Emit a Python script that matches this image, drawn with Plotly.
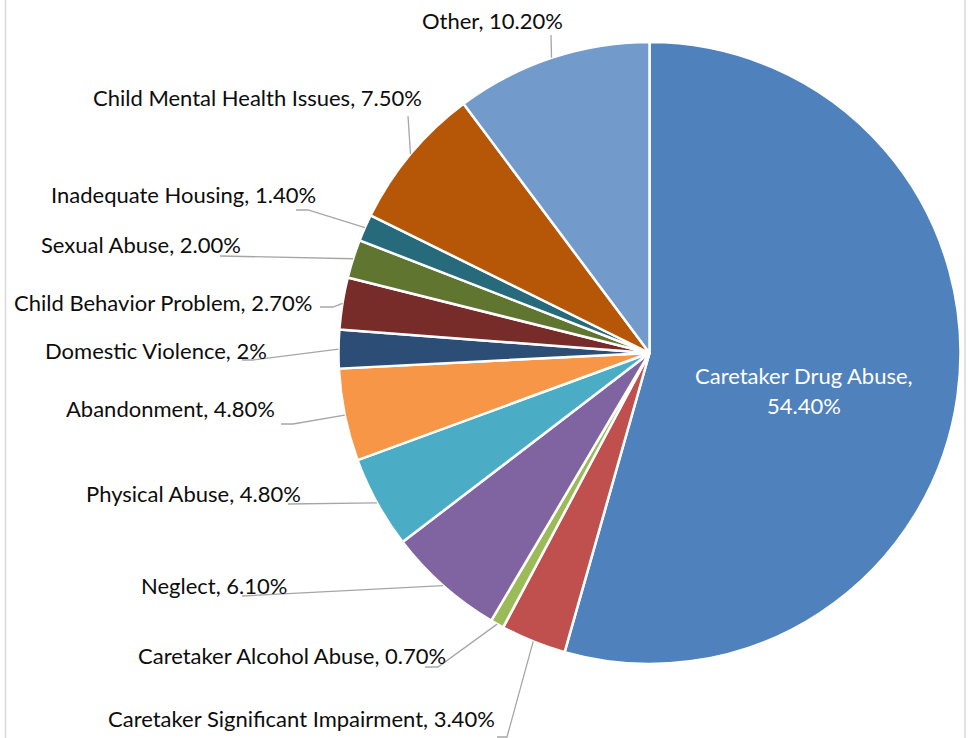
import math
import plotly.graph_objects as go

# Removal reasons, in clockwise order from 12 o'clock
categories = [
    "Caretaker Drug Abuse",
    "Caretaker Significant Impairment",
    "Caretaker Alcohol Abuse",
    "Neglect",
    "Physical Abuse",
    "Abandonment",
    "Domestic Violence",
    "Child Behavior Problem",
    "Sexual Abuse",
    "Inadequate Housing",
    "Child Mental Health Issues",
    "Other",
]
shares = [54.4, 3.4, 0.7, 6.1, 4.8, 4.8, 2.0, 2.7, 2.0, 1.4, 7.5, 10.2]
value_labels = ["54.40%", "3.40%", "0.70%", "6.10%", "4.80%", "4.80%",
                "2%", "2.70%", "2.00%", "1.40%", "7.50%", "10.20%"]

colors = ["#4F81BD", "#C0504D", "#9BBB59", "#8064A2", "#4BACC6", "#F79646",
          "#2C4D75", "#772C2A", "#5F7530", "#276A7C", "#B65708", "#729ACA"]

W, H = 968, 738
CX, CY, R = 649.5, 353.0, 311.0  # pie centre and radius in pixels

FONT = "Lato"
FSIZE = 22
LINE_COLOR = "#A6A6A6"

# Outside label placement: right edge x, centre y, and the leader tail points
# that sit next to the label (pixels). None marks the inside label.
label_layout = [
    None,
    (496, 718, [(497, 737), (507, 737)]),
    (447, 655, [(425, 667), (438, 667)]),
    (288, 585, [(242, 596)]),
    (302, 493, [(288, 504)]),
    (276, 408, [(281, 424), (293, 424)]),
    (268, 350, [(242, 360), (253, 360)]),
    (313, 302, [(320, 307), (333, 307)]),
    (242, 244, [(220, 256)]),
    (317, 195, [(296, 210), (308, 210)]),
    (423, 97, [(408, 116)]),
    (564, 21, [(551, 35)]),
]


def px(x):
    return x / W


def py(y):
    return 1 - y / H


def no_ligatures(s):
    # keep "st" from being drawn as a ligature
    return s.replace("st", "s\u200ct")


fig = go.Figure(go.Pie(
    labels=categories,
    values=shares,
    sort=False,
    direction="clockwise",
    rotation=0,
    textinfo="none",
    hoverinfo="label+percent",
    marker=dict(colors=colors, line=dict(color="#FFFFFF", width=2.5)),
    domain=dict(x=[px(CX - R), px(CX + R)], y=[py(CY + R), py(CY - R)]),
    showlegend=False,
))

total = sum(shares)
annotations = []
shapes = []
cum = 0.0
for name, val, vlab, lay in zip(categories, shares, value_labels, label_layout):
    theta = 2 * math.pi * (cum + val / 2) / total
    cum += val
    sx, sy = math.sin(theta), -math.cos(theta)
    if lay is None:
        # label drawn inside the slice, about halfway out
        tx, ty = CX + 0.5 * R * sx, CY + 0.5 * R * sy
        for k, line in enumerate([f"{name},", vlab]):
            annotations.append(dict(
                x=px(tx), y=py(ty + 1 + 30 * k), xref="paper", yref="paper",
                text=line, showarrow=False,
                font=dict(family=FONT, size=FSIZE, color="#FFFFFF"),
                xanchor="center", yanchor="middle", borderpad=0,
            ))
        continue
    rx, ry, tail = lay
    annotations.append(dict(
        x=px(rx), y=py(ry), xref="paper", yref="paper",
        text=no_ligatures(f"{name}, {vlab}"), showarrow=False,
        font=dict(family=FONT, size=FSIZE, color="#0D0D0D"),
        xanchor="right", yanchor="middle", borderpad=0,
    ))
    ax, ay = CX + R * sx, CY + R * sy
    pts = list(tail) + [(ax, ay)]
    path = "M " + " L ".join(f"{px(x):.5f} {py(y):.5f}" for x, y in pts)
    shapes.append(dict(type="path", path=path, xref="paper", yref="paper",
                       line=dict(color=LINE_COLOR, width=1.3)))

# chart area border (left and right edges visible)
for bx in (5.5, 965.0):
    shapes.append(dict(type="line", x0=px(bx), x1=px(bx), y0=0, y1=1,
                       xref="paper", yref="paper",
                       line=dict(color="#D9D9D9", width=1.5)))

fig.update_layout(
    width=W, height=H,
    margin=dict(l=0, r=0, t=0, b=0),
    paper_bgcolor="#FFFFFF",
    plot_bgcolor="#FFFFFF",
    annotations=annotations,
    shapes=shapes,
)

fig.write_html("out.html")
